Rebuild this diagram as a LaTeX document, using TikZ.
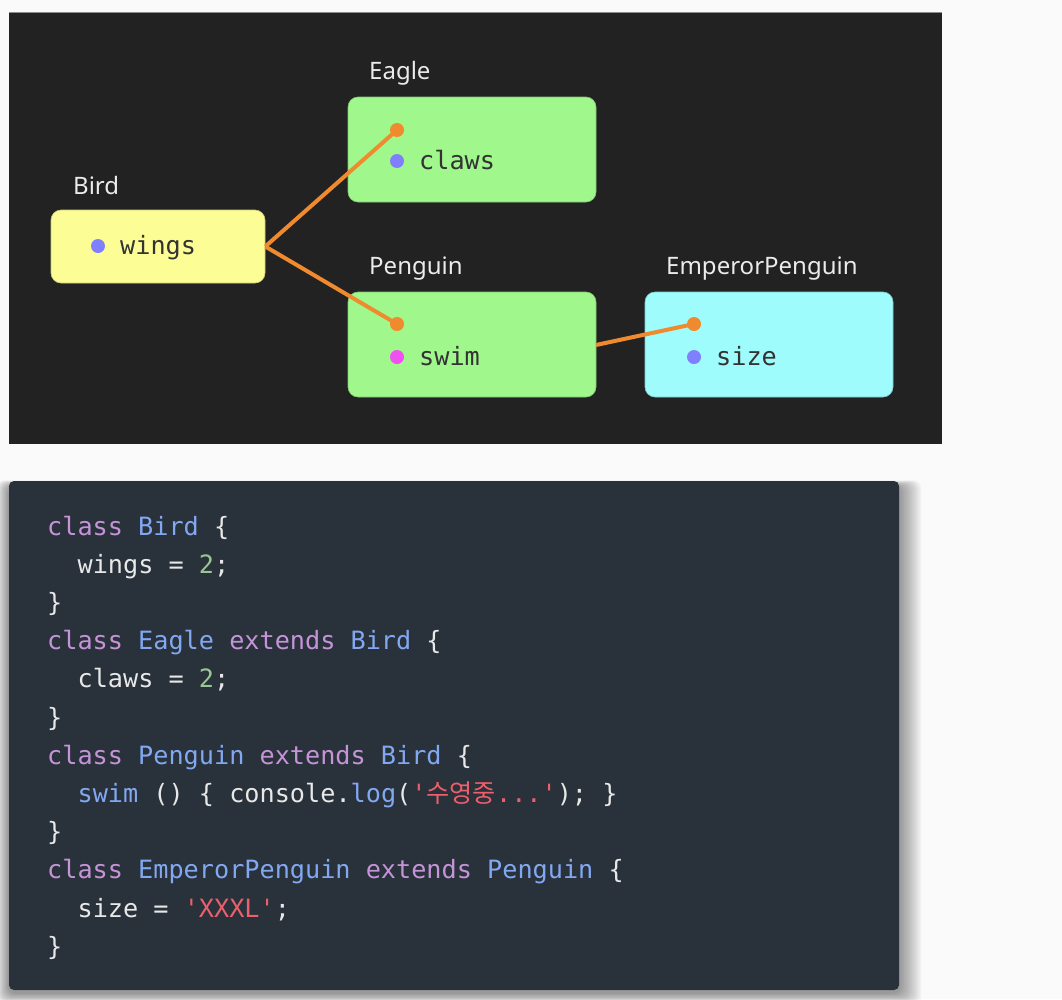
\documentclass[tikz,border=0pt]{standalone}
\usepackage{fontspec}
\setmainfont{Noto Sans}
\setmonofont{DejaVu Sans Mono}
\newfontfamily\cjkfont{Noto Sans CJK KR}
\definecolor{pagebg}{HTML}{FAFAFA}
\definecolor{darkbg}{HTML}{222222}
\definecolor{codebg}{HTML}{29313A}
\definecolor{yellowc}{HTML}{FDFD96}
\definecolor{greenc}{HTML}{A0F88C}
\definecolor{cyanc}{HTML}{9FFCFC}
\definecolor{orangec}{HTML}{F08A2E}
\definecolor{bluedot}{HTML}{8080FF}
\definecolor{magdot}{HTML}{F050F0}
\definecolor{boxtext}{HTML}{333333}
\definecolor{kwc}{HTML}{C594D8}
\definecolor{clsc}{HTML}{82A8F2}
\definecolor{numc}{HTML}{99C794}
\definecolor{strc}{HTML}{EC5F6C}
\definecolor{plainc}{HTML}{E8E8E8}
\newcommand\ckw[1]{\textcolor{kwc}{#1}}
\newcommand\ccls[1]{\textcolor{clsc}{#1}}
\newcommand\cnumb[1]{\textcolor{numc}{#1}}
\newcommand\cstrg[1]{\textcolor{strc}{#1}}
\begin{document}
\begin{tikzpicture}[x=1pt,y=-1pt,
  classbox/.style={rectangle, rounded corners=10pt, inner sep=0pt, draw=#1!80!black, line width=0.6pt, fill=#1},
  lbl/.style={anchor=base west, inner sep=0pt, text=white!92!black, font=\fontsize{24}{28}\selectfont},
  field/.style={anchor=base west, inner sep=0pt, text=boxtext, font=\ttfamily\fontsize{25.2}{30}\selectfont},
  dot/.style={circle, fill=#1, inner sep=0pt, minimum size=14pt},
  conn/.style={draw=orangec, line width=4pt},
  code/.style={anchor=base west, inner sep=0pt, text=plainc, font=\ttfamily\fontsize{25.2}{30}\selectfont}]
\fill[pagebg] (0,0) rectangle (1062,999);
\useasboundingbox (0,0) rectangle (1062,999);
% top dark panel
\fill[darkbg] (9,12) rectangle (942,444);
\draw[black!45, line width=1.2pt] (9,12.6) -- (942,12.6);
% boxes
\node[classbox=yellowc, minimum width=214pt, minimum height=73pt] (bird) at (158,246.5) {};
\node[classbox=greenc, minimum width=248pt, minimum height=105pt] (eagle) at (472,149.5) {};
\node[classbox=greenc, minimum width=248pt, minimum height=105pt] (penguin) at (472,344.5) {};
\node[classbox=cyanc, minimum width=248pt, minimum height=105pt] (emperor) at (769,344.5) {};
% labels
\node[lbl] (birdlbl) at (73,194) {Bird};
\node[lbl] (eaglelbl) at (369,79) {Eagle};
\node[lbl] (penguinlbl) at (369,274) {Penguin};
\node[lbl] (emperorlbl) at (666,274) {EmperorPenguin};
% fields
\node[dot=bluedot] (birddot) at (98,246) {};
\node[field] (wings) at (120,254) {wings};
\node[dot=bluedot] (eagledot) at (397,161) {};
\node[field] (claws) at (419,169) {claws};
\node[dot=magdot] (penguindot) at (397,357) {};
\node[field] (swim) at (419,365) {swim};
\node[dot=bluedot] (emperordot) at (694,357) {};
\node[field] (size) at (716,365) {size};
% connectors
\coordinate (penguinout) at (596,345);
\draw[conn] (bird.east) -- (397,130) coordinate (eagleport);
\draw[conn] (bird.east) -- (397,324) coordinate (penguinport);
\draw[conn] (penguinout) -- (694,324) coordinate (emperorport);
\node[dot=orangec] (eaglein) at (eagleport) {};
\node[dot=orangec] (penguinin) at (penguinport) {};
\node[dot=orangec] (emperorin) at (emperorport) {};
% code panel shadow
\foreach \i in {1,...,14} {
  \fill[black, opacity=0.03, rounded corners=8pt] (9-\i*0.9,481-\i*0.4+5) rectangle (899+\i*1.6,990+\i*0.8+3);
}
\fill[codebg, rounded corners=5pt] (9,481) rectangle (899,990);
% code lines
\node[code] (c1) at (47,535) {\ckw{class} \ccls{Bird} \{};
\node[code] (c2) at (77.4,573.2) {wings = \cnumb{2};};
\node[code] (c3) at (47,611.4) {\}};
\node[code] (c4) at (47,649.6) {\ckw{class} \ccls{Eagle} \ckw{extends} \ccls{Bird} \{};
\node[code] (c5) at (77.4,687.8) {claws = \cnumb{2};};
\node[code] (c6) at (47,726) {\}};
\node[code] (c7) at (47,764.2) {\ckw{class} \ccls{Penguin} \ckw{extends} \ccls{Bird} \{};
\node[code] (c8) at (77.4,802.4) {\ccls{swim} () \{ console.\ccls{log}(\cstrg{'{\cjkfont 수영중}...'}); \}};
\node[code] (c9) at (47,840.6) {\}};
\node[code] (c10) at (47,878.8) {\ckw{class} \ccls{EmperorPenguin} \ckw{extends} \ccls{Penguin} \{};
\node[code] (c11) at (77.4,917) {size = \cstrg{'XXXL'};};
\node[code] (c12) at (47,955.2) {\}};
\end{tikzpicture}
\end{document}
